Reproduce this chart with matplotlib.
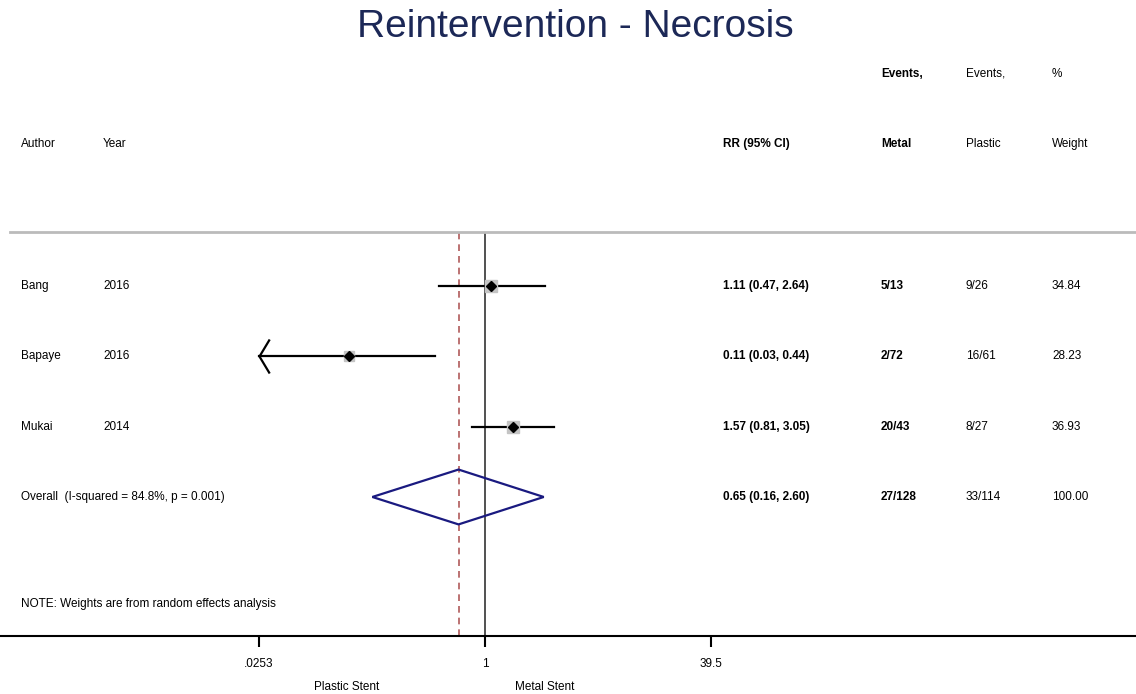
import matplotlib
matplotlib.use("Agg")
import matplotlib.pyplot as plt
import matplotlib.transforms as mtransforms
from matplotlib.path import Path
import numpy as np

plt.rcParams['font.family'] = ['Liberation Sans', 'DejaVu Sans']

# Données
auteurs = ['Bang', 'Bapaye', 'Mukai']
annees = ['2016', '2016', '2014']
rr = [1.11, 0.11, 1.57]
ci_bas = [0.47, 0.03, 0.81]
ci_haut = [2.64, 0.44, 3.05]
metal = ['5/13', '2/72', '20/43']
plastique = ['9/26', '16/61', '8/27']
poids = [34.84, 28.23, 36.93]

global_rr = 0.65
global_bas = 0.16
global_haut = 2.60
global_metal = '27/128'
global_plastique = '33/114'
global_poids = 100.00
global_label = 'Overall  (I-squared = 84.8%, p = 0.001)'

ticks = [0.0253, 1, 39.5]
tick_labels = ['.0253', '1', '39.5']

W, H = 1136, 694
fig = plt.figure(figsize=(W / 100, H / 100), dpi=100)
ax = fig.add_axes([0, 58 / H, 1, 404 / H])
ax.set_xscale('log')
ax.set_xlim(10 ** -3.427, 10 ** 4.600)
ax.set_ylim(4.977, -0.768)

for s in ['top', 'left', 'right']:
    ax.spines[s].set_visible(False)
ax.spines['bottom'].set_linewidth(1.5)
ax.set_yticks([])
ax.set_xticks(ticks)
ax.set_xticklabels(tick_labels, fontsize=8.5)
ax.minorticks_off()
ax.tick_params(axis='x', length=8, width=1.5, pad=8)

# lignes de référence
ax.axvline(1, color='#333333', lw=1.2)
ax.axvline(global_rr, color='#b05a5a', lw=1.2, ls=(0, (4, 3)))
ax.axhline(-0.768, xmin=10 / W, xmax=1, color='#bbbbbb', lw=2, clip_on=False)

# pointe de flèche ouverte (pointe à l'origine)
tete = Path([(0.6, 1), (0, 0), (0.6, -1)], [Path.MOVETO, Path.LINETO, Path.LINETO])

clip = ticks[0]
for i in range(len(rr)):
    lo = ci_bas[i]
    if lo <= round(clip, 2):
        # IC tronqué à la borne de l'axe : flèche vers la gauche
        ax.plot([clip, ci_haut[i]], [i, i], color='black', lw=1.6)
        ax.plot(clip, i, marker=tete, ms=24.5, mfc='none', mec='black', mew=1.6)
    else:
        ax.plot([lo, ci_haut[i]], [i, i], color='black', lw=1.6)
    ax.plot(rr[i], i, marker='s', color='#c4c4c4', ms=9 * np.sqrt(poids[i] / 36.93), zorder=3)
    ax.plot(rr[i], i, marker='D', color='black', ms=5.5, zorder=4)

# losange global
yg = len(rr)
ax.fill([global_bas, global_rr, global_haut, global_rr, global_bas],
        [yg, yg - 0.39, yg, yg + 0.39, yg], facecolor='none', edgecolor='#1a1a80', lw=1.6, zorder=5)

# textes
tr = mtransforms.blended_transform_factory(fig.transFigure, ax.transData)
col_x = [21, 103, 723, 881, 966, 1052]
fs = 8.5
for i in range(len(rr)):
    y = i
    ax.text(col_x[0] / W, y, auteurs[i], transform=tr, fontsize=fs, va='center')
    ax.text(col_x[1] / W, y, annees[i], transform=tr, fontsize=fs, va='center')
    ax.text(col_x[2] / W, y, f'{rr[i]:.2f} ({ci_bas[i]:.2f}, {ci_haut[i]:.2f})', transform=tr,
            fontsize=fs, va='center', fontweight='bold')
    ax.text(col_x[3] / W, y, metal[i], transform=tr, fontsize=fs, va='center', fontweight='bold')
    ax.text(col_x[4] / W, y, plastique[i], transform=tr, fontsize=fs, va='center')
    ax.text(col_x[5] / W, y, f'{poids[i]:.2f}', transform=tr, fontsize=fs, va='center')

ax.text(col_x[0] / W, yg, global_label, transform=tr, fontsize=fs, va='center')
ax.text(col_x[2] / W, yg, f'{global_rr:.2f} ({global_bas:.2f}, {global_haut:.2f})', transform=tr,
        fontsize=fs, va='center', fontweight='bold')
ax.text(col_x[3] / W, yg, global_metal, transform=tr, fontsize=fs, va='center', fontweight='bold')
ax.text(col_x[4] / W, yg, global_plastique, transform=tr, fontsize=fs, va='center')
ax.text(col_x[5] / W, yg, f'{global_poids:.2f}', transform=tr, fontsize=fs, va='center')

ax.text(col_x[0] / W, 4.52, 'NOTE: Weights are from random effects analysis', transform=tr,
        fontsize=fs, va='center')

def ftext(x, y, s, **kw):
    fig.text(x / W, 1 - y / H, s, fontsize=fs, va='center', **kw)

ftext(col_x[3], 74, 'Events,', fontweight='bold')
ftext(col_x[4], 74, 'Events,')
ftext(col_x[5], 74, '%')
ftext(col_x[0], 144, 'Author')
ftext(col_x[1], 144, 'Year')
ftext(col_x[2], 144, 'RR (95% CI)', fontweight='bold')
ftext(col_x[3], 144, 'Metal', fontweight='bold')
ftext(col_x[4], 144, 'Plastic')
ftext(col_x[5], 144, 'Weight')

fig.text(347 / W, 1 - 687 / H, 'Plastic Stent', fontsize=fs, ha='center', va='center')
fig.text(545 / W, 1 - 687 / H, 'Metal Stent', fontsize=fs, ha='center', va='center')

fig.text(575 / W, 1 - 27 / H, 'Reintervention - Necrosis', fontsize=28, color='#1c2857',
         ha='center', va='center')

fig.savefig('out.png', dpi=100)
